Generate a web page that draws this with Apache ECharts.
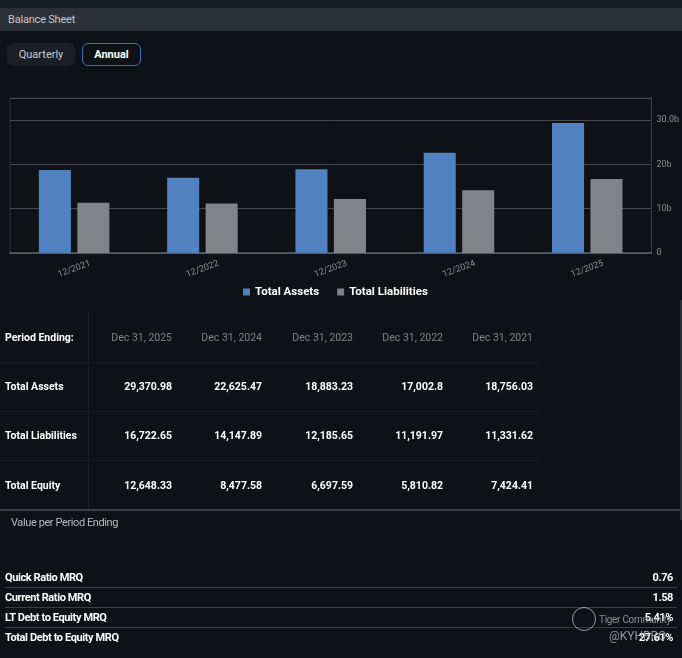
<!DOCTYPE html>
<html>
<head>
<meta charset="utf-8">
<script src="https://cdn.jsdelivr.net/npm/echarts@6/dist/echarts.min.js"></script>
<style>
  html, body { margin:0; padding:0; background:#0e1115; }
  body { width:682px; height:658px; position:relative; overflow:hidden; font-family:Roboto, "Noto Sans", sans-serif; color:#fff; }
  .topstrip { position:absolute; left:0; top:0; width:682px; height:8px; background:#171a1f; }
  .hdr { position:absolute; left:0; top:8px; width:682px; height:23px; background:#2c3037; color:#c3c7cd; font-size:11px; line-height:23px; padding-left:8px; box-sizing:border-box; letter-spacing:-0.2px; }
  .btn { position:absolute; top:43px; height:23px; line-height:23px; font-size:11px; text-align:center; border-radius:6px; box-sizing:border-box; }
  #bq { left:7px; width:68px; background:#1b1f25; color:#c9ccd1; }
  #ba { left:82px; width:59px; border:1px solid #3d6db5; line-height:21px; color:#fff; font-weight:bold; }
  #chart { position:absolute; left:0; top:70px; width:682px; height:235px; }
  #tbl { position:absolute; left:0; top:0; width:682px; height:658px; font-size:10.5px; }
  .cell { position:absolute; height:14px; line-height:14px; white-space:nowrap; font-weight:bold; color:#fff; }
  .cell.num { text-align:right; width:90px; }
  .cell.head { color:#7f8388; font-weight:normal; }
  .hl { position:absolute; left:0; width:540px; height:1px; background:#181c21; }
  .vl { position:absolute; left:88px; top:312px; width:1px; height:197px; background:#1d2127; }
  .sep { position:absolute; left:0; top:509px; width:682px; height:2px; background:#3e4247; }
  .vpp { position:absolute; left:11px; top:516px; font-size:11px; color:#b6bac0; letter-spacing:-0.4px; }
  #ratios { position:absolute; left:5px; top:568px; width:672px; font-size:11px; font-weight:bold; letter-spacing:-0.4px; }
  #ratios .r { height:19px; line-height:19px; border-bottom:1px solid #3a3e44; display:flex; justify-content:space-between; padding-right:4px; }
  #ratios .r:last-child { border-bottom:none; }
  .rb { position:absolute; right:0; top:300px; width:2px; height:220px; background:#2a2e33; }
  .wm1 { position:absolute; left:599px; top:614px; font-size:10px; color:rgba(170,174,180,0.8); letter-spacing:-0.3px; }
  .wm2 { position:absolute; left:609px; top:629px; font-size:12px; color:rgba(180,184,190,0.8); }
  .logo { position:absolute; left:572px; top:607px; width:22px; height:22px; border:1.5px solid rgba(190,194,200,0.8); border-radius:50%; }
</style>
</head>
<body>
<div class="topstrip"></div>
<div class="hdr">Balance Sheet</div>
<div class="btn" id="bq">Quarterly</div>
<div class="btn" id="ba">Annual</div>
<div id="chart"></div>
<div id="tbl"></div>
<div class="sep"></div>
<div class="rb"></div>
<div class="vpp">Value per Period Ending</div>
<div id="ratios"></div>
<div class="logo"></div>
<div class="wm1">Tiger Community</div>
<div class="wm2">@KYHBRO</div>

<script type="text/javascript">
// data (millions), oldest first
var years = ['12/2021', '12/2022', '12/2023', '12/2024', '12/2025'];
var periods = ['Dec 31, 2021', 'Dec 31, 2022', 'Dec 31, 2023', 'Dec 31, 2024', 'Dec 31, 2025'];
var totalAssets = [18756.03, 17002.8, 18883.23, 22625.47, 29370.98];
var totalLiabilities = [11331.62, 11191.97, 12185.65, 14147.89, 16722.65];
var totalEquity = [7424.41, 5810.82, 6697.59, 8477.58, 12648.33];
var ratioNames = ['Quick Ratio MRQ', 'Current Ratio MRQ', 'LT Debt to Equity MRQ', 'Total Debt to Equity MRQ'];
var ratioValues = ['0.76', '1.58', '5.41%', '27.61%'];

function fmt(v) {
    return v.toLocaleString('en-US', { maximumFractionDigits: 2 });
}

// table layout, newest first
var colRight = [172, 262, 353, 443, 533];
var rowMid = [338, 387, 436, 486];
var rowLines = [362, 411, 460];
var rows = [
    ['Period Ending:'].concat(periods.slice().reverse()),
    ['Total Assets'].concat(totalAssets.slice().reverse().map(fmt)),
    ['Total Liabilities'].concat(totalLiabilities.slice().reverse().map(fmt)),
    ['Total Equity'].concat(totalEquity.slice().reverse().map(fmt))
];
var html = '<div class="vl"></div>';
for (var l = 0; l < rowLines.length; l++) {
    html += '<div class="hl" style="top:' + rowLines[l] + 'px"></div>';
}
for (var i = 0; i < rows.length; i++) {
    var ty = rowMid[i] - 7;
    html += '<div class="cell" style="left:5px;top:' + ty + 'px">' + rows[i][0] + '</div>';
    for (var j = 1; j < rows[i].length; j++) {
        html += '<div class="cell num' + (i == 0 ? ' head' : '') + '" style="left:' + (colRight[j - 1] - 90) + 'px;top:' + ty + 'px">' + rows[i][j] + '</div>';
    }
}
document.getElementById('tbl').innerHTML = html;

var rhtml = '';
for (var k = 0; k < ratioNames.length; k++) {
    rhtml += '<div class="r"><span>' + ratioNames[k] + '</span><span>' + ratioValues[k] + '</span></div>';
}
document.getElementById('ratios').innerHTML = rhtml;

var myChart = echarts.init(document.getElementById('chart'));
var option = {
    backgroundColor: 'transparent',
    animation: false,
    textStyle: { fontFamily: 'Roboto' },
    grid: { left: 10, right: 30, top: 28, bottom: 52, show: true, borderColor: '#34383e', borderWidth: 1 },
    legend: {
        top: 216,
        left: 243,
        padding: 0,
        itemWidth: 7,
        itemHeight: 7,
        itemGap: 18,
        icon: 'rect',
        textStyle: { color: '#ffffff', fontSize: 11.5, fontWeight: 'bold' },
        data: ['Total Assets', 'Total Liabilities']
    },
    xAxis: {
        type: 'category',
        data: years,
        axisLine: { lineStyle: { color: '#5b5f64', width: 1.5 } },
        axisTick: { show: false },
        axisLabel: { color: '#8b8f94', fontSize: 9, rotate: 20, align: 'center', verticalAlign: 'middle', margin: 16 }
    },
    yAxis: {
        type: 'value',
        position: 'right',
        min: 0,
        max: 35,
        interval: 10,
        axisLine: { show: true, lineStyle: { color: '#3a3e44' } },
        axisTick: { show: false },
        splitLine: { lineStyle: { color: '#464a50' } },
        axisLabel: {
            color: '#8b8f94', fontSize: 9, margin: 5, showMaxLabel: false,
            formatter: function (v) {
                if (v === 0) return '0';
                if (v === 30) return v.toFixed(1) + 'b';
                return v + 'b';
            }
        }
    },
    series: [
        {
            name: 'Total Assets', type: 'bar', barWidth: '25%', barGap: '20%',
            itemStyle: { color: '#5081c0' },
            data: totalAssets.map(function (v) { return v / 1000; })
        },
        {
            name: 'Total Liabilities', type: 'bar', barWidth: '25%',
            itemStyle: { color: '#808387' },
            data: totalLiabilities.map(function (v) { return v / 1000; })
        }
    ]
};
myChart.setOption(option);
</script>
</body>
</html>
